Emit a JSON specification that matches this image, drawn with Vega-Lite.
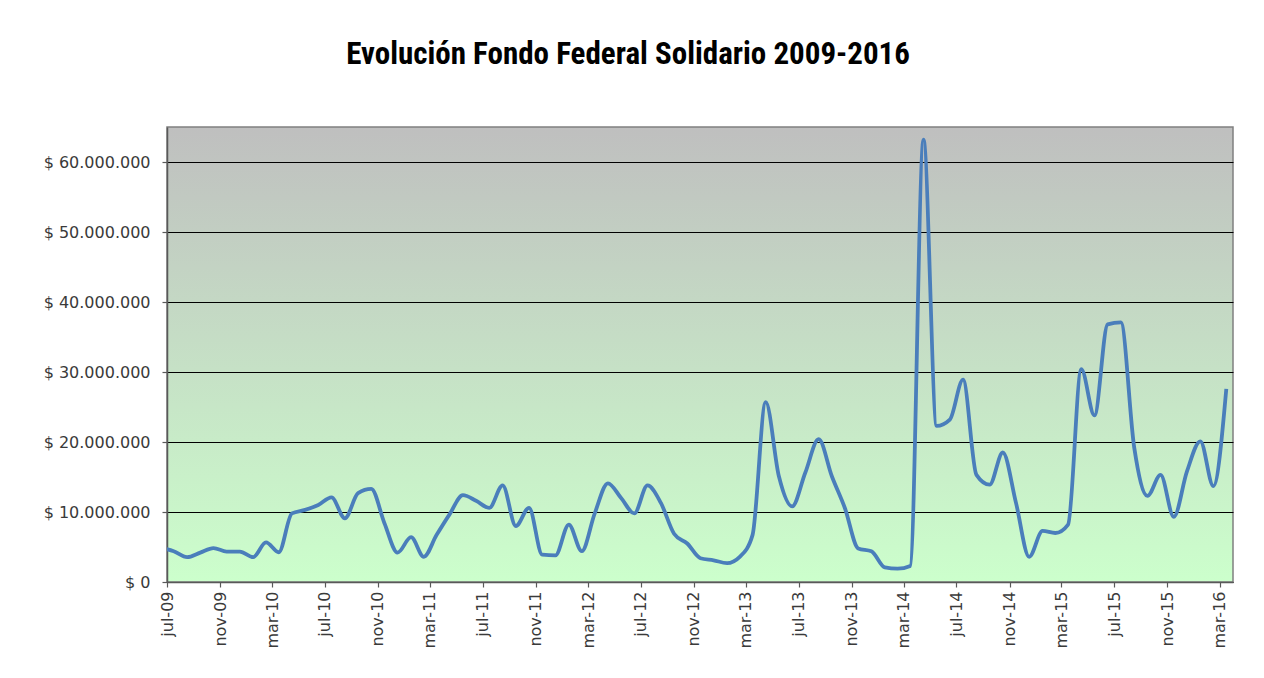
{
  "$schema": "https://vega.github.io/schema/vega-lite/v6.json",
  "width": 1066,
  "height": 455,
  "autosize": {"type": "none"},
  "padding": {"left": 167, "top": 127, "right": 31, "bottom": 96},
  "background": "white",
  "title": {
    "text": "Evolución Fondo Federal Solidario 2009-2016",
    "font": "Liberation Sans Narrow, Roboto Condensed, Roboto",
    "fontSize": 31,
    "fontWeight": "bold",
    "color": "#000000",
    "anchor": "middle",
    "frame": "bounds",
    "baseline": "alphabetic",
    "offset": 32,
    "dx": -10
  },
  "config": {
    "locale": {
      "number": {"decimal": ",", "thousands": ".", "grouping": [3], "currency": ["$ ", ""]},
      "time": {
        "dateTime": "%A, %e de %B de %Y, %X",
        "date": "%d/%m/%Y",
        "time": "%H:%M:%S",
        "periods": ["AM", "PM"],
        "days": ["domingo", "lunes", "martes", "miércoles", "jueves", "viernes", "sábado"],
        "shortDays": ["dom", "lun", "mar", "mié", "jue", "vie", "sáb"],
        "months": ["enero", "febrero", "marzo", "abril", "mayo", "junio", "julio", "agosto", "septiembre", "octubre", "noviembre", "diciembre"],
        "shortMonths": ["ene", "feb", "mar", "abr", "may", "jun", "jul", "ago", "sep", "oct", "nov", "dic"]
      }
    },
    "view": {
      "stroke": "#808080",
      "strokeWidth": 1.5,
      "fill": {
        "gradient": "linear",
        "x1": 0, "y1": 0, "x2": 0, "y2": 1,
        "stops": [
          {"offset": 0, "color": "#bfbfbf"},
          {"offset": 1, "color": "#ccffcc"}
        ]
      }
    },
    "axis": {
      "labelFont": "DejaVu Sans",
      "labelFontSize": 16,
      "labelColor": "#3a3a3a",
      "domainColor": "#595959",
      "domainWidth": 1.5,
      "tickColor": "#595959",
      "tickWidth": 1.2,
      "tickSize": 5
    }
  },
  "data": {
    "values": [
      {"mes": "2009-06-01", "monto": 4900000},
      {"mes": "2009-07-01", "monto": 4400000},
      {"mes": "2009-08-01", "monto": 3550000},
      {"mes": "2009-09-01", "monto": 4200000},
      {"mes": "2009-10-01", "monto": 4850000},
      {"mes": "2009-11-01", "monto": 4350000},
      {"mes": "2009-12-01", "monto": 4350000},
      {"mes": "2010-01-01", "monto": 3550000},
      {"mes": "2010-02-01", "monto": 5650000},
      {"mes": "2010-03-01", "monto": 4250000},
      {"mes": "2010-04-01", "monto": 9800000},
      {"mes": "2010-05-01", "monto": 10300000},
      {"mes": "2010-06-01", "monto": 11000000},
      {"mes": "2010-07-01", "monto": 12100000},
      {"mes": "2010-08-01", "monto": 9100000},
      {"mes": "2010-09-01", "monto": 12700000},
      {"mes": "2010-10-01", "monto": 13300000},
      {"mes": "2010-11-01", "monto": 8400000},
      {"mes": "2010-12-01", "monto": 4200000},
      {"mes": "2011-01-01", "monto": 6400000},
      {"mes": "2011-02-01", "monto": 3600000},
      {"mes": "2011-03-01", "monto": 6700000},
      {"mes": "2011-04-01", "monto": 9700000},
      {"mes": "2011-05-01", "monto": 12400000},
      {"mes": "2011-06-01", "monto": 11600000},
      {"mes": "2011-07-01", "monto": 10600000},
      {"mes": "2011-08-01", "monto": 13800000},
      {"mes": "2011-09-01", "monto": 8000000},
      {"mes": "2011-10-01", "monto": 10600000},
      {"mes": "2011-11-01", "monto": 3900000},
      {"mes": "2011-12-01", "monto": 3800000},
      {"mes": "2012-01-01", "monto": 8200000},
      {"mes": "2012-02-01", "monto": 4400000},
      {"mes": "2012-03-01", "monto": 9800000},
      {"mes": "2012-04-01", "monto": 14100000},
      {"mes": "2012-05-01", "monto": 12000000},
      {"mes": "2012-06-01", "monto": 9800000},
      {"mes": "2012-07-01", "monto": 13800000},
      {"mes": "2012-08-01", "monto": 11300000},
      {"mes": "2012-09-01", "monto": 6900000},
      {"mes": "2012-10-01", "monto": 5500000},
      {"mes": "2012-11-01", "monto": 3400000},
      {"mes": "2012-12-01", "monto": 3100000},
      {"mes": "2013-01-01", "monto": 2700000},
      {"mes": "2013-02-01", "monto": 3600000},
      {"mes": "2013-03-01", "monto": 6700000},
      {"mes": "2013-04-01", "monto": 25700000},
      {"mes": "2013-05-01", "monto": 15100000},
      {"mes": "2013-06-01", "monto": 10800000},
      {"mes": "2013-07-01", "monto": 15600000},
      {"mes": "2013-08-01", "monto": 20400000},
      {"mes": "2013-09-01", "monto": 15100000},
      {"mes": "2013-10-01", "monto": 10500000},
      {"mes": "2013-11-01", "monto": 4800000},
      {"mes": "2013-12-01", "monto": 4400000},
      {"mes": "2014-01-01", "monto": 2100000},
      {"mes": "2014-02-01", "monto": 1900000},
      {"mes": "2014-03-01", "monto": 2300000},
      {"mes": "2014-04-01", "monto": 63200000},
      {"mes": "2014-05-01", "monto": 22300000},
      {"mes": "2014-06-01", "monto": 23200000},
      {"mes": "2014-07-01", "monto": 28900000},
      {"mes": "2014-08-01", "monto": 15300000},
      {"mes": "2014-09-01", "monto": 13900000},
      {"mes": "2014-10-01", "monto": 18500000},
      {"mes": "2014-11-01", "monto": 11300000},
      {"mes": "2014-12-01", "monto": 3600000},
      {"mes": "2015-01-01", "monto": 7300000},
      {"mes": "2015-02-01", "monto": 7000000},
      {"mes": "2015-03-01", "monto": 8200000},
      {"mes": "2015-04-01", "monto": 30400000},
      {"mes": "2015-05-01", "monto": 23800000},
      {"mes": "2015-06-01", "monto": 36800000},
      {"mes": "2015-07-01", "monto": 37100000},
      {"mes": "2015-08-01", "monto": 19200000},
      {"mes": "2015-09-01", "monto": 12300000},
      {"mes": "2015-10-01", "monto": 15300000},
      {"mes": "2015-11-01", "monto": 9300000},
      {"mes": "2015-12-01", "monto": 15800000},
      {"mes": "2016-01-01", "monto": 20100000},
      {"mes": "2016-02-01", "monto": 13700000},
      {"mes": "2016-03-01", "monto": 27600000}
    ]
  },
  "mark": {
    "type": "line",
    "interpolate": "monotone",
    "color": "#4a7ebb",
    "strokeWidth": 3.8,
    "clip": true
  },
  "encoding": {
    "x": {
      "field": "mes",
      "type": "temporal",
      "timeUnit": "utcyearmonth",
      "bandPosition": 0.5,
      "title": null,
      "scale": {
        "domain": [
          {"year": 2009, "month": 7, "date": 1, "utc": true},
          {"year": 2016, "month": 4, "date": 1, "utc": true}
        ],
        "nice": false
      },
      "axis": {
        "values": [
          {"year": 2009, "month": 7, "date": 1, "utc": true},
          {"year": 2009, "month": 11, "date": 1, "utc": true},
          {"year": 2010, "month": 3, "date": 1, "utc": true},
          {"year": 2010, "month": 7, "date": 1, "utc": true},
          {"year": 2010, "month": 11, "date": 1, "utc": true},
          {"year": 2011, "month": 3, "date": 1, "utc": true},
          {"year": 2011, "month": 7, "date": 1, "utc": true},
          {"year": 2011, "month": 11, "date": 1, "utc": true},
          {"year": 2012, "month": 3, "date": 1, "utc": true},
          {"year": 2012, "month": 7, "date": 1, "utc": true},
          {"year": 2012, "month": 11, "date": 1, "utc": true},
          {"year": 2013, "month": 3, "date": 1, "utc": true},
          {"year": 2013, "month": 7, "date": 1, "utc": true},
          {"year": 2013, "month": 11, "date": 1, "utc": true},
          {"year": 2014, "month": 3, "date": 1, "utc": true},
          {"year": 2014, "month": 7, "date": 1, "utc": true},
          {"year": 2014, "month": 11, "date": 1, "utc": true},
          {"year": 2015, "month": 3, "date": 1, "utc": true},
          {"year": 2015, "month": 7, "date": 1, "utc": true},
          {"year": 2015, "month": 11, "date": 1, "utc": true},
          {"year": 2016, "month": 3, "date": 1, "utc": true}
        ],
        "labelExpr": "utcFormat(datum.value, '%b-%y')",
        "labelAngle": -90,
        "labelAlign": "right",
        "labelBaseline": "middle",
        "labelPadding": 4,
        "labelOverlap": false,
        "labelFlush": false,
        "grid": false
      }
    },
    "y": {
      "field": "monto",
      "type": "quantitative",
      "title": null,
      "scale": {"domain": [0, 65000000], "nice": false},
      "axis": {
        "values": [0, 10000000, 20000000, 30000000, 40000000, 50000000, 60000000],
        "format": "$,.0f",
        "grid": true,
        "gridColor": "#000000",
        "gridWidth": 1,
        "gridOpacity": 1,
        "labelPadding": 12
      }
    }
  }
}
